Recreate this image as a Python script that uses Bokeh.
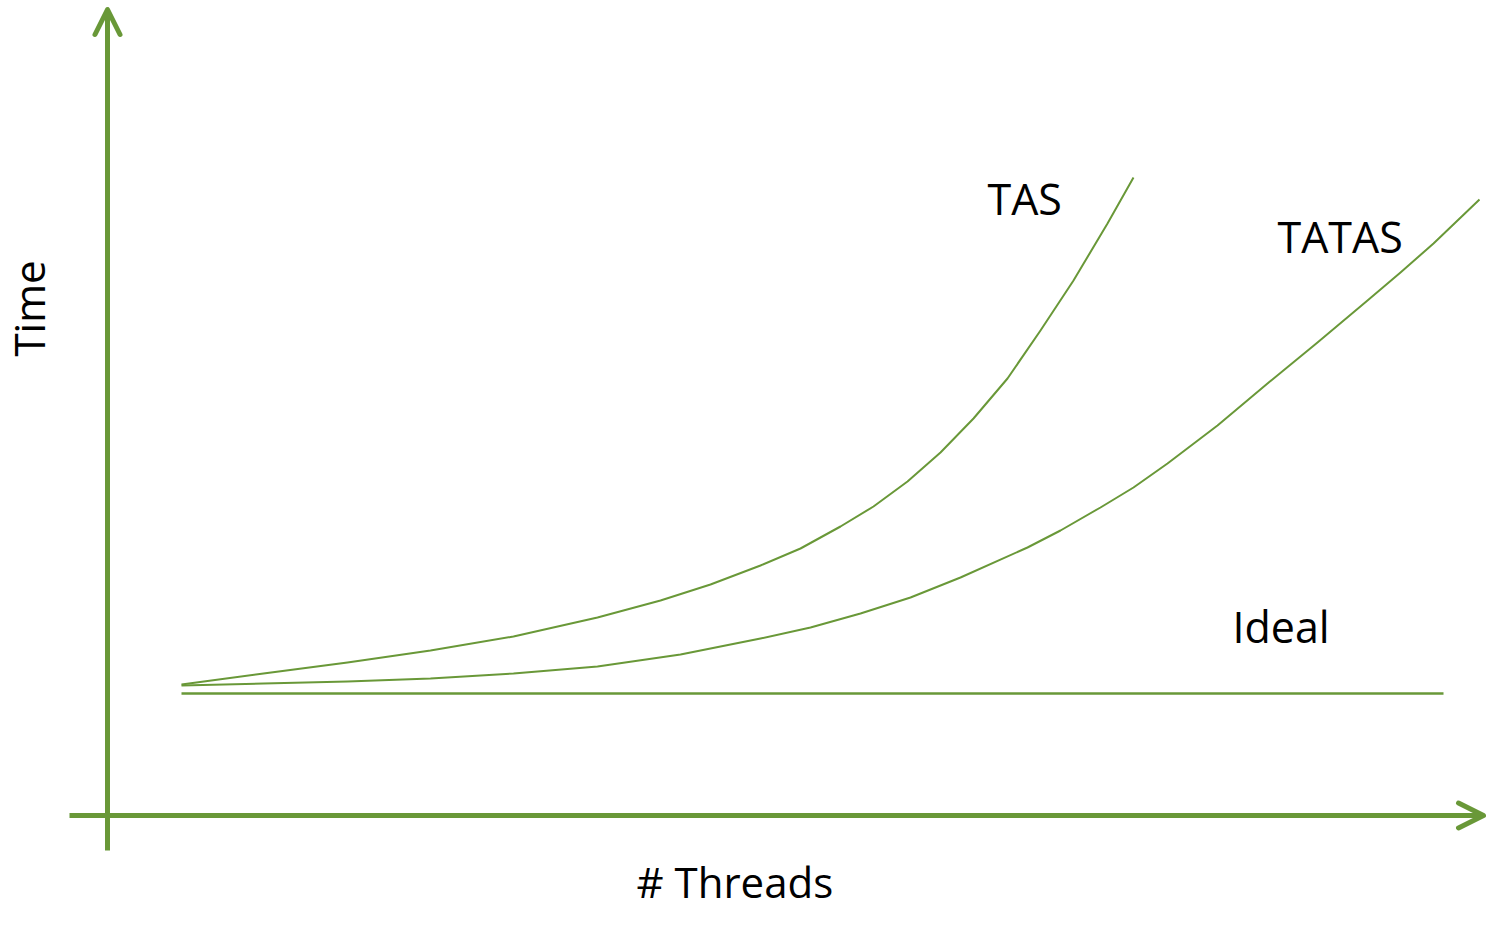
from bokeh.plotting import figure
from bokeh.models import Range1d, Arrow, OpenHead
from bokeh.core.properties import value
from bokeh.embed import file_html
from bokeh.resources import INLINE
import math

# ---- data (schematic units: origin at axis crossing) ----
threads_ideal = [7.4, 133.6]
time_ideal = [12.2, 12.2]

threads_tas = [7.4, 15.6, 24.0, 32.3, 40.6, 49.0, 55.3, 60.3, 65.3, 69.3, 73.3, 76.6,
               80.0, 83.3, 86.6, 90.0, 93.3, 96.6, 100.0, 102.6]
time_tas = [13.1, 14.2, 15.3, 16.5, 17.9, 19.8, 21.5, 23.1, 25.0, 26.7, 28.9, 30.9,
            33.4, 36.3, 39.7, 43.7, 48.5, 53.5, 59.2, 63.8]

threads_tatas = [7.4, 15.6, 24.0, 32.3, 40.6, 49.0, 57.3, 65.3, 70.3, 75.3, 80.3, 85.3,
                 92.0, 95.3, 99.3, 102.6, 106.0, 111.0, 116.0, 121.0, 126.0, 129.3,
                 132.6, 137.2]
time_tatas = [13.0, 13.2, 13.4, 13.7, 14.2, 14.9, 16.1, 17.7, 18.8, 20.2, 21.8, 23.8,
              26.8, 28.5, 30.8, 32.8, 35.2, 39.0, 43.2, 47.3, 51.5, 54.3, 57.2, 61.6]

series_labels = ["TAS", "TATAS", "Ideal"]
x_title = "# Threads"
y_title = "Time"

GREEN = "#699838"
FONT = "Open Sans"

p = figure(width=1486, height=910, output_backend="svg", toolbar_location=None,
           x_axis_type=None, y_axis_type=None,
           x_range=Range1d(-10.7, 137.9), y_range=Range1d(-9.5, 81.5),
           min_border=0, outline_line_color=None, background_fill_color="white")

# axes as arrows
p.add_layout(Arrow(end=OpenHead(size=25, line_color=GREEN, line_width=5,
                                line_cap="round", line_join="round"),
                   x_start=0, y_start=-3.5, x_end=0, y_end=80.6,
                   line_color=GREEN, line_width=5))
p.add_layout(Arrow(end=OpenHead(size=25, line_color=GREEN, line_width=5,
                                line_cap="round", line_join="round"),
                   x_start=-3.8, y_start=0, x_end=137.6, y_end=0,
                   line_color=GREEN, line_width=5))

# curves
p.line(threads_ideal, time_ideal, line_color=GREEN, line_width=2.6)
p.line(threads_tas, time_tas, line_color=GREEN, line_width=2, line_join="round")
p.line(threads_tatas, time_tatas, line_color=GREEN, line_width=2, line_join="round")

# labels
p.text(x=[88.0, 117.0, 112.5], y=[61.7, 57.9, 18.9], text=series_labels,
       text_font=value(FONT), text_font_size="43px", text_color="black",
       text_align="left", text_baseline="alphabetic")
p.text(x=[52.9], y=[-6.6], text=[x_title],
       text_font=value(FONT), text_font_size="42px", text_color="black",
       text_align="left", text_baseline="alphabetic")
p.text(x=[-7.9], y=[50.7], text=[y_title], angle=math.pi / 2,
       text_font=value(FONT), text_font_size="42px", text_color="black",
       text_align="center", text_baseline="alphabetic")

open("out.html", "w").write(file_html(p, INLINE))
